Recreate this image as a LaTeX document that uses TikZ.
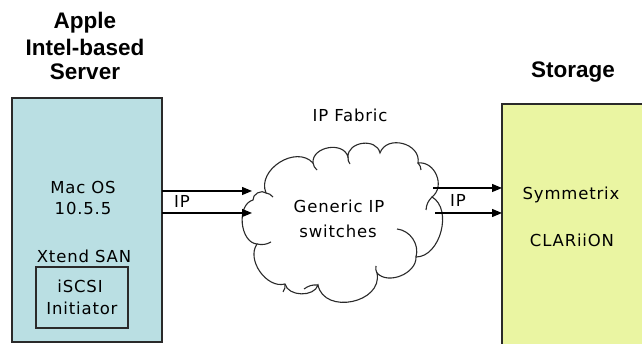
\documentclass[tikz,border=0pt]{standalone}
\usepackage{fontspec}
\setmainfont{DejaVu Sans}
\newfontfamily\titlefont{Liberation Sans}
\usetikzlibrary{arrows.meta}
\definecolor{serverfill}{HTML}{BADFE3}
\definecolor{storagefill}{HTML}{EAF5A2}
\definecolor{edgegray}{HTML}{2A2A2A}
\tikzset{
  box/.style={draw=edgegray, line width=1.2pt},
  lbl/.style={anchor=base, inner sep=0pt, font=\fontsize{16.5}{18}\selectfont\addfontfeature{LetterSpace=5}},
  ttl/.style={anchor=base, inner sep=0pt, font=\titlefont\bfseries\fontsize{22.5}{25}\selectfont},
  link/.style={draw=black, line width=1.2pt, -{Triangle[length=10pt,width=8pt]}},
  cloudline/.style={draw=edgegray, line width=1.1pt},
}
\begin{document}
\begin{tikzpicture}[x=1pt,y=-1pt]
\useasboundingbox (0,0) rectangle (642,344);
% boxes
\path[box, fill=serverfill] (12,98) rectangle (162,342);
\path[box] (36,267) rectangle (128,328);
\path[box, fill=storagefill] (502,104) rectangle (650,350);
\coordinate (srvR1) at (162,191);
\coordinate (srvR2) at (162,213);
\coordinate (cldL1) at (252,191);
\coordinate (cldL2) at (252,213);
\coordinate (cldR1) at (433,188);
\coordinate (cldR2) at (435,213);
\coordinate (stoL1) at (502,188);
\coordinate (stoL2) at (502,213);
% titles
\node[ttl] (t1) at (85,29) {Apple};
\node[ttl] (t2) at (85,56) {Intel-based};
\node[ttl] (t3) at (85,80) {Server};
\node[ttl] (t4) at (573,78) {Storage};
% server texts
\node[lbl] (mac) at (83,194) {Mac OS};
\node[lbl] (ver) at (83,215) {10.5.5};
\node[lbl] (xt) at (84,263) {Xtend SAN};
\node[lbl] (isc) at (80,293) {iSCSI};
\node[lbl] (ini) at (82,315) {Initiator};
% cloud
\path[cloudline, fill=white]
  (257,244) to[bend left=80] (253,200)
  to[bend left=70] (266,193)
  to[bend left=80, looseness=1.15] (313,163)
  to[bend left=85, looseness=1.2] (348,157)
  to[bend left=85, looseness=1.25] (380,153)
  to[bend left=85, looseness=1.3] (418,163)
  to[bend left=75, looseness=1.2] (432,197)
  to[bend left=75] (416,257)
  to[bend left=70] (377,273)
  to[bend left=90, looseness=1.3] (318,285)
  to[bend left=75] (285,284)
  to[bend left=70] (257,244) -- cycle;
\path[cloudline] (257,244) to[bend right=20] (271,242);
\path[cloudline] (266,193) to[bend left=20] (273,197);
\path[cloudline] (313,163) to[bend right=20] (317,170);
\path[cloudline] (348,157) to[bend right=20] (350,164);
\path[cloudline] (418,163) to[bend left=20] (421,170);
\path[cloudline] (432,197) to[bend right=20] (426,210);
\path[cloudline] (397,229) to[bend left=50] (416,257);
\path[cloudline] (377,273) to[bend left=20] (376,266);
\path[cloudline] (318,285) to[bend right=20] (304,289);
\path[cloudline] (285,284) to[bend left=20] (283,292);
\node[lbl] (gen) at (339,213) {Generic IP};
\node[lbl] (sw) at (338,238) {switches};
\node[lbl] (fab) at (350,122) {IP Fabric};
% links
\draw[link] (srvR1) -- (cldL1);
\draw[link] (srvR2) -- (cldL2);
\draw[link] (cldR1) -- (stoL1);
\draw[link] (cldR2) -- (stoL2);
\node[lbl] (ip1) at (182,208) {IP};
\node[lbl] (ip2) at (458,207) {IP};
% storage texts
\node[lbl] (sym) at (571,200) {Symmetrix};
\node[lbl] (cla) at (572,247) {CLARiiON};
\end{tikzpicture}
\end{document}
